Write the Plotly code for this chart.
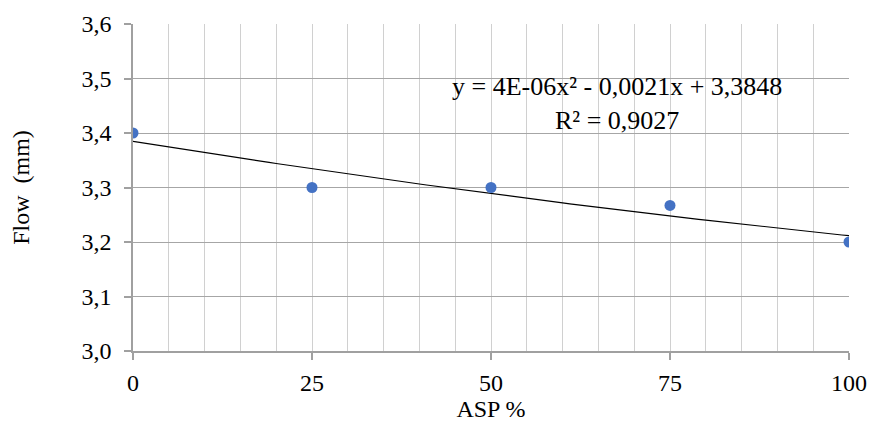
import numpy as np
import plotly.graph_objects as go

asp = [0, 25, 50, 75, 100]
flow = [3.40, 3.30, 3.30, 3.267, 3.20]
x_ticks = [0, 25, 50, 75, 100]
y_ticks = [3.0, 3.1, 3.2, 3.3, 3.4, 3.5, 3.6]
equation_text = "y = 4E-06x² - 0,0021x + 3,3848<br>R² = 0,9027"

coef = np.polyfit(asp, flow, 2)
xs = np.linspace(0, 100, 101)
ys = np.polyval(coef, xs)

FONT = "'Liberation Serif', 'Times New Roman', 'DejaVu Serif', serif"

fig = go.Figure()
fig.add_trace(go.Scatter(x=xs, y=ys, mode="lines",
                         line=dict(color="black", width=1.2),
                         hoverinfo="skip", showlegend=False))
fig.add_trace(go.Scatter(x=asp, y=flow, mode="markers",
                         marker=dict(color="#4472C4", size=11),
                         showlegend=False))

fig.add_annotation(x=0.676, y=0.758, xref="paper", yref="paper",
                   xanchor="center", yanchor="middle",
                   text=equation_text, showarrow=False, align="center",
                   font=dict(family=FONT, size=26, color="black"))

fig.update_layout(
    width=872, height=425,
    margin=dict(l=133, r=23, t=24, b=74),
    paper_bgcolor="white", plot_bgcolor="white",
    separators=",.",
    font=dict(family=FONT, size=24, color="black"),
    xaxis=dict(
        range=[0, 100], tickvals=x_ticks, ticktext=[str(v) for v in x_ticks],
        showgrid=True, gridcolor="#d0d0d0", gridwidth=1,
        minor=dict(dtick=5, tick0=0, showgrid=True, gridcolor="#d0d0d0", gridwidth=1),
        showline=True, linecolor="#a0a0a0", linewidth=1.5,
        ticks="outside", ticklen=7, tickcolor="#a0a0a0", tickwidth=1.5,
        ticklabelstandoff=2,
        zeroline=False, automargin=False,
        title=dict(text="ASP %", font=dict(family=FONT, size=24), standoff=5),
        tickfont=dict(family=FONT, size=24),
    ),
    yaxis=dict(
        range=[3.0, 3.6], tickvals=y_ticks, tickformat=".1f",
        showgrid=True, gridcolor="#a6a6a6", gridwidth=1.3,
        showline=True, linecolor="#a0a0a0", linewidth=1.5,
        ticks="outside", ticklen=7, tickcolor="#a0a0a0", tickwidth=1.5,
        ticklabelstandoff=8,
        zeroline=False, automargin=False,
        title=dict(text="Flow  (mm)", font=dict(family=FONT, size=24), standoff=45),
        tickfont=dict(family=FONT, size=24),
    ),
)

fig.write_html("out.html")
